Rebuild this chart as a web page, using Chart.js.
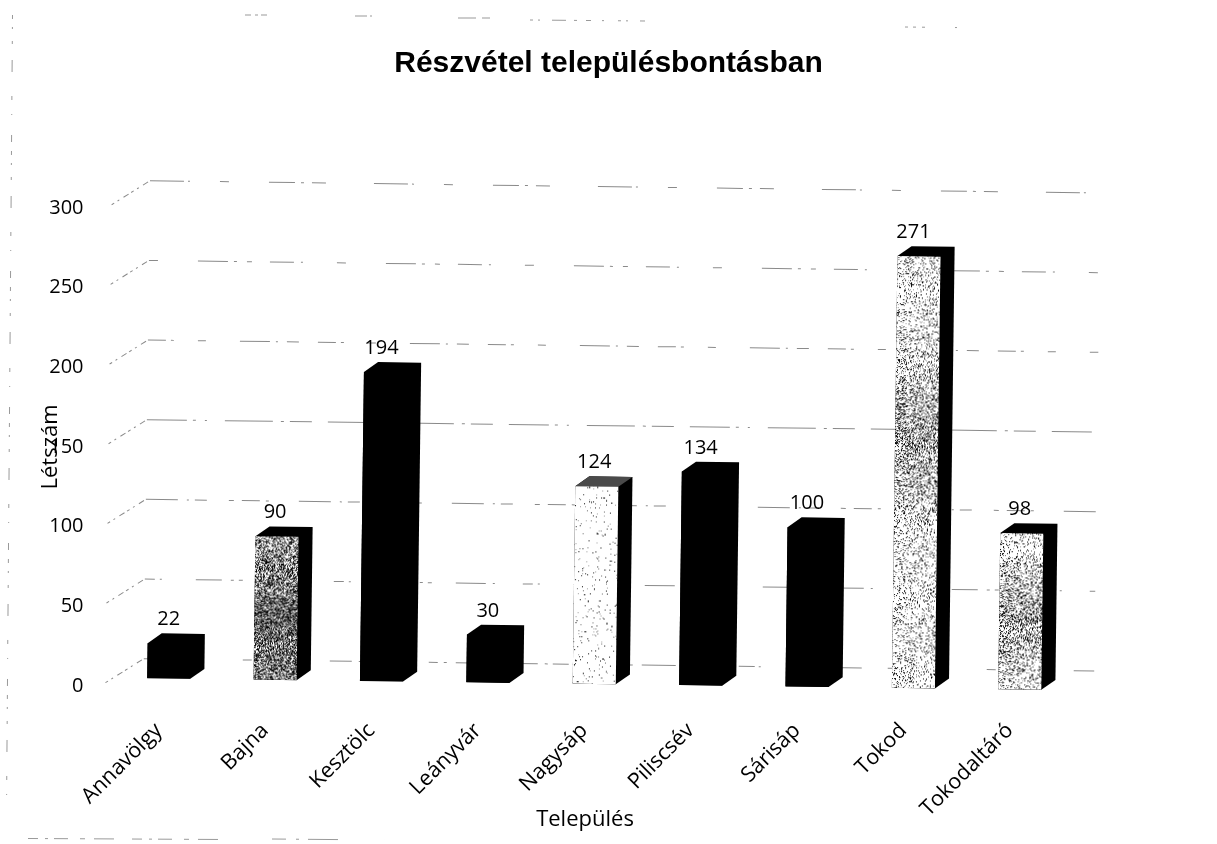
<!DOCTYPE html>
<html lang="hu"><head><meta charset="utf-8">
<style>html,body{margin:0;padding:0;background:#fff}canvas{display:block}</style>
<script src="https://cdn.jsdelivr.net/npm/chart.js@4/dist/chart.umd.min.js"></script>
</head><body><div style="width:1217px;height:844px"><canvas id="c"></canvas></div>
<script>
const categories = ['Annavölgy','Bajna','Kesztölc','Leányvár','Nagysáp','Piliscsév','Sárisáp','Tokod','Tokodaltáró'];
const values = [22,90,194,30,124,134,100,271,98];
const yTicks = [0,50,100,150,200,250,300];
const titleText = 'Részvétel településbontásban';
const xTitle = 'Település';
const yTitle = 'Létszám';
const speckle = [1,0.58,1,1,0.035,1,1,0.2,0.2];
const darkCentre = [0,85,0,0,0,0,0,180,85];

const TILT = Math.atan(11/851), PIVOT_X = 594, PIVOT_Y = 686, DX = 14, DY = 10, LIFT = 2;
const FONT = '"Open Sans", sans-serif';
function hash(a,b,s){let h=(a*374761393+b*668265263+s*2147483647)|0;h=Math.imul(h^(h>>>13),1274126177);return ((h^(h>>>16))>>>0)/4294967296;}
function tile(density,seed,centre){
  const t=document.createElement('canvas');t.width=44;t.height=440;const g=t.getContext('2d');
  const tones=['#000','#222','#666','#999'];
  g.fillStyle='#fff';g.fillRect(0,0,44,440);
  for(let y=0;y<440;y++)for(let x=0;x<44;x++){
    const span=centre>100?110:70;
    const mid=1-Math.min(1,Math.abs(y-centre)/span);
    const d=density+(density<0.1?0:0.3*mid);
    const r=hash(x,y,seed);
    if(r<d){g.fillStyle=tones[Math.floor(hash(y,x,seed+9)*4)];g.fillRect(x,y,1,1);}
  }
  return t;
}
const ctx0=document.getElementById('c').getContext('2d');
const fills=speckle.map((d,i)=>d>=1?'#000':ctx0.createPattern(tile(d,i+3,darkCentre[i]),'repeat'));

const dashes=[[22,7,3,5,16,4,2,40,9,6,3,9,34,26],[10,5,2,34,26,9,3,5,4,24,30,7,2,28],[32,9,2,6,12,22,5,8,18,6,3,30],[40,6,3,9,2,18,48,8,3,6,22,16],[18,5,3,24,8,34,30,6,2,9,12,19],[9,40,30,6,3,10,5,18,24,7,2,34],[34,4,2,30,9,40,26,6,3,8,14,48]];
const frameSegs=[
 {p:[12.5,15,6.5,812],d:[4,8,2,12,3,16,12,24,4,14,1,20,7,9]},
 {p:[28,838.5,225,839.5],d:[10,7,3,6,14,12,5,9,20,18]},
 {p:[272,839,385,840],d:[14,10,3,9,30,47]},
 {p:[245,15,270,15],d:[6,4,3,3]},
 {p:[355,16,378,16],d:[12,3,2,6]},
 {p:[458,18,500,18],d:[18,6,8,10]},
 {p:[530,20,645,21],d:[3,5,2,12,14,8,3,9,5,11,2,14]},
 {p:[905,27,995,28],d:[3,5,3,6,3,30,2,40]}
];
const scanPlugin={id:'scan3d',
 beforeDatasetsDraw(ch){
  const c=ch.ctx,y=ch.scales.y,a=ch.chartArea,meta=ch.getDatasetMeta(0);
  c.save();
  c.strokeStyle='#999';c.lineWidth=1;
  frameSegs.forEach(s=>{c.setLineDash(s.d);c.beginPath();c.moveTo(s.p[0],s.p[1]);c.lineTo(s.p[2],s.p[3]);c.stroke();});
  c.setLineDash([]);c.restore();
  c.save();
  c.translate(PIVOT_X,PIVOT_Y-LIFT);c.rotate(TILT);c.translate(-PIVOT_X,-PIVOT_Y);
  yTicks.forEach((t,i)=>{
    const p=y.getPixelForValue(t);
    c.strokeStyle='#8a8a8a';c.lineWidth=1;
    c.setLineDash(dashes[i]);
    c.beginPath();c.moveTo(a.left+28,p-19.5);c.lineTo(a.right+21,p-19.5);c.stroke();
    c.setLineDash([3,4,2,5,6,3]);
    c.beginPath();c.moveTo(a.left-10,p+5);c.lineTo(a.left+28,p-19.5);c.stroke();
  });
  c.setLineDash([]);
  meta.data.forEach((b,i)=>{
    const hw=b.width/2,l=b.x-hw,r=b.x+hw,top=b.y,base=b.base;
    c.fillStyle='#000';
    c.beginPath();c.moveTo(l,top);c.lineTo(l+DX,top-DY);c.lineTo(r+DX,top-DY);c.lineTo(r+DX,base-DY);c.lineTo(r,base);c.lineTo(l,base);c.closePath();c.fill();
    if(speckle[i]<0.1){
      c.fillStyle='#4a4a4a';
      c.beginPath();c.moveTo(l,top);c.lineTo(l+DX,top-DY);c.lineTo(r+DX,top-DY);c.lineTo(r,top);c.closePath();c.fill();
    }
    const f=fills[i];
    if(typeof f!=='string')f.setTransform(new DOMMatrix().translate(l,top));
  });
 },
 afterDatasetsDraw(ch){
  const c=ch.ctx,meta=ch.getDatasetMeta(0);
  c.restore();
  c.save();
  c.fillStyle='#000';c.font='20px '+FONT;c.textAlign='center';c.textBaseline='middle';
  meta.data.forEach((b,i)=>{
    const ty=b.y-LIFT+(b.x-PIVOT_X)*Math.tan(TILT)-24;
    c.fillText(String(values[i]),b.x,ty);
  });
  c.font='22px '+FONT;
  c.fillText(xTitle,585,820);
  c.restore();
 }
};

new Chart(ctx0,{
 type:'bar',
 data:{labels:categories,datasets:[{data:values,backgroundColor:fills,borderWidth:0,barPercentage:0.405,categoryPercentage:1}]},
 plugins:[scanPlugin],
 options:{
  responsive:true,maintainAspectRatio:false,animation:false,
  plugins:{legend:{display:false},tooltip:{enabled:false},
   title:{display:true,text:titleText,color:'#000',font:{family:'"Liberation Sans", Arial, sans-serif',size:30,weight:'bold'},padding:{top:46,bottom:126}}},
  scales:{
   x:{grid:{display:false,drawTicks:false},border:{display:false},
      afterFit(s){s.height=158;},
      ticks:{color:'#000',font:{family:FONT,size:21.5},minRotation:45,maxRotation:45,autoSkip:false,padding:32,labelOffset:-10}},
   y:{min:0,max:300,grid:{display:false,drawTicks:false},border:{display:false},
      afterFit(s){s.width=115.5;},
      afterBuildTicks(s){s.ticks=yTicks.map(v=>({value:v}));},
      title:{display:true,text:yTitle,color:'#000',font:{family:FONT,size:22},padding:{top:38,bottom:0}},
      ticks:{color:'#000',font:{family:FONT,size:20},padding:32}},
   right:{position:'right',display:true,grid:{display:false,drawTicks:false},border:{display:false},ticks:{display:false},afterFit(s){s.width=144;}}
  }
 }
});
</script></body></html>
